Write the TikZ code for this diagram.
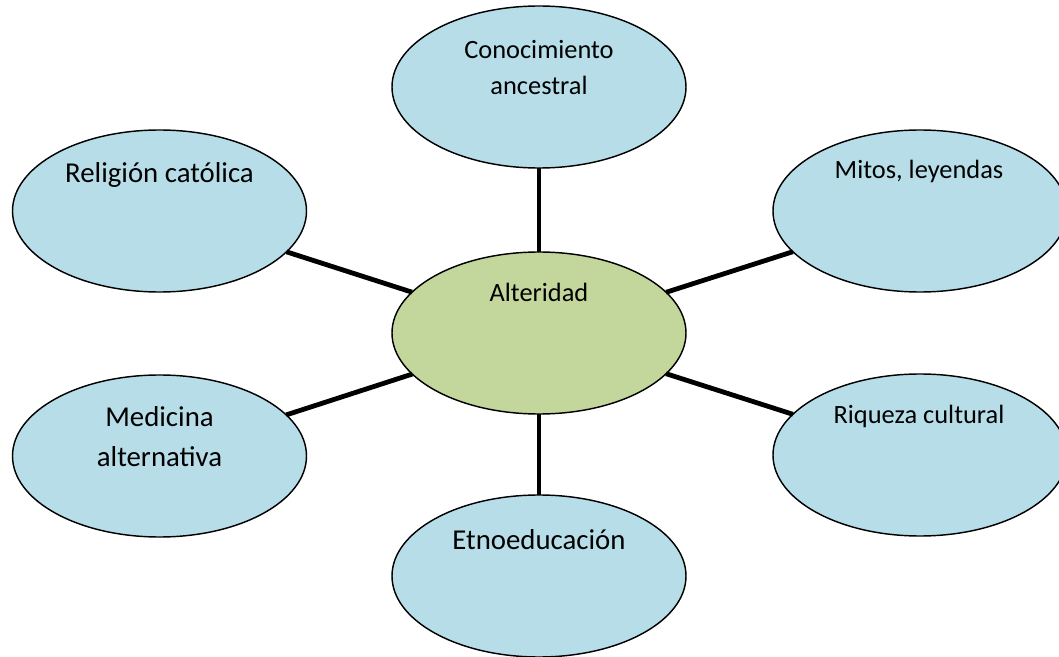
\documentclass[tikz,border=0pt]{standalone}
\usepackage{fontspec}
\setmainfont{Carlito}
\usetikzlibrary{shapes.geometric}
\definecolor{aquafill}{HTML}{B7DEE8}
\definecolor{olivefill}{HTML}{C3D69B}
\begin{document}
\begin{tikzpicture}[x=0.41667pt,y=-0.41667pt,
  bubble/.style={ellipse, draw=black, line width=0.6pt, fill=aquafill, minimum width=122.5pt, minimum height=67.5pt, inner sep=0pt, outer sep=0pt},
  link/.style={line width=2pt},
  smalltxt/.style={font=\fontsize{11}{15.4}\selectfont, align=center, anchor=base, inner sep=0pt},
  bigtxt/.style={font=\fontsize{12}{16.8}\selectfont, align=center, anchor=base, inner sep=0pt}]
\useasboundingbox (0,0) rectangle (1059,657);
\node[bubble, fill=olivefill] (alt) at (539,333) {};
\node[bubble] (con) at (539,87) {};
\node[bubble] (rel) at (159.5,211) {};
\node[bubble] (mit) at (920,211) {};
\node[bubble] (med) at (159.5,456) {};
\node[bubble] (riq) at (920,455) {};
\node[bubble] (etn) at (539,576) {};
\draw[link] (con) -- (alt);
\draw[link] (rel) -- (alt);
\draw[link] (mit) -- (alt);
\draw[link] (med) -- (alt);
\draw[link] (riq) -- (alt);
\draw[link] (etn) -- (alt);
\node[smalltxt] (tcon) at (539,95) {Conocimiento\\ancestral};
\node[bigtxt] (trel) at (159.5,183) {Religión católica};
\node[smalltxt] (tmit) at (919,179) {Mitos, leyendas};
\node[smalltxt] (talt) at (539,301.5) {Alteridad};
\node[bigtxt] (tmed) at (159.5,466.5) {Medicina\\alternativa};
\node[smalltxt] (triq) at (919,423) {Riqueza cultural};
\node[bigtxt] (tetn) at (539,549) {Etnoeducación};
\end{tikzpicture}
\end{document}
